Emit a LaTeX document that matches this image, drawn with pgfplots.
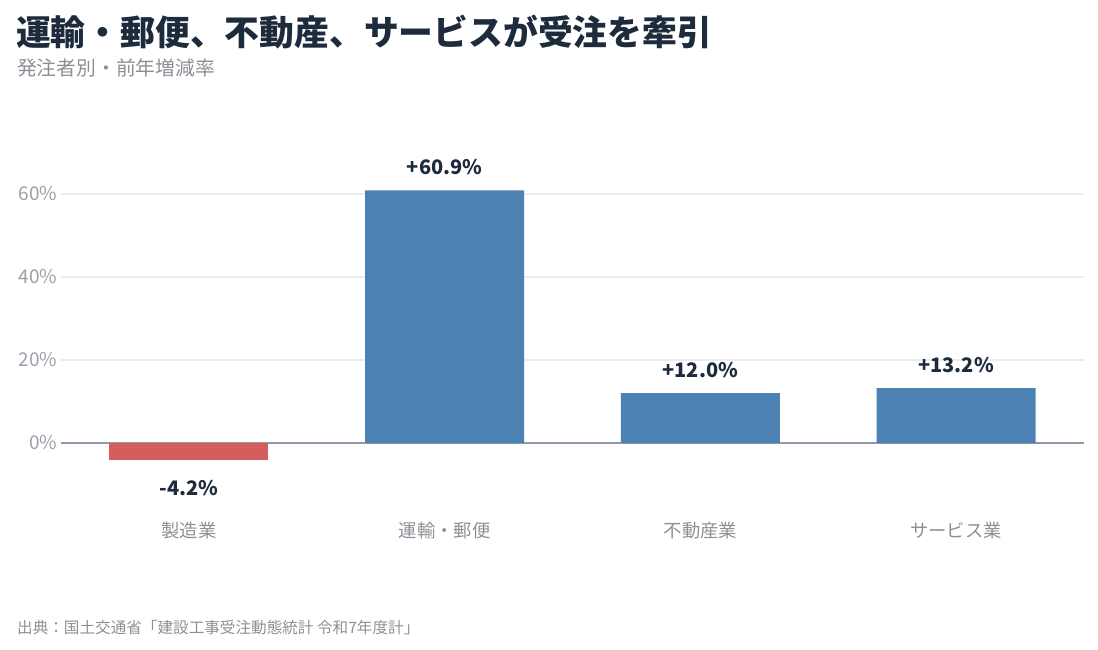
\documentclass[border=0pt]{standalone}
\usepackage{fontspec}
\setmainfont{Noto Sans CJK JP}
\usepackage{pgfplots}
\pgfplotsset{compat=1.18}

\definecolor{titlec}{HTML}{1E2B3C}
\definecolor{subc}{HTML}{8C9096}
\definecolor{tickc}{HTML}{9AA0A8}
\definecolor{barblue}{HTML}{4C81B3}
\definecolor{barred}{HTML}{D65D5B}
\definecolor{gridc}{HTML}{ECECEC}
\definecolor{zeroc}{HTML}{8E9AAA}

\begin{document}
\begin{tikzpicture}
% the axis box has its lower left corner at (0,0); the page is placed round it
\useasboundingbox (-61pt,484.5pt) rectangle (1037pt,-164.5pt);

\begin{axis}[
  at={(0pt,0pt)}, anchor=south west,
  scale only axis,
  width=1023pt, height=332pt,
  xmin=-0.5, xmax=3.5,
  ymin=-10, ymax=70,
  axis line style={draw=none},
  major tick length=0pt,
  xtick={0,1,2,3},
  xticklabels={製造業,運輸・郵便,不動産業,サービス業},
  xticklabel style={text=subc, font=\fontsize{18.3}{22}\selectfont,
    anchor=base, yshift=-53pt},
  ytick={20,40,60},
  extra y ticks={0},
  extra y tick style={grid style={color=zeroc, line width=1.6pt}},
  yticklabel={\pgfmathprintnumber{\tick}\%},
  yticklabel style={text=tickc, font=\fontsize{19}{23}\selectfont},
  /pgf/number format/assume math mode=true,
  ymajorgrids,
  grid style={color=gridc, line width=1.6pt},
  ybar, bar width=159pt, bar shift=0pt,
  nodes near coords={\pgfmathprintnumber[showpos,fixed,fixed zerofill,precision=1]{\pgfplotspointmeta}\%},
  nodes near coords style={text=titlec, font=\fontsize{20}{24}\selectfont\bfseries},
]
\addplot[fill=barred, draw=none,
  every node near coord/.append style={yshift=-16pt}]
  coordinates {(0,-4.2)};
\addplot[fill=barblue, draw=none,
  every node near coord/.append style={yshift=12pt}]
  coordinates {(1,60.9) (2,12.0) (3,13.2)};
\end{axis}

\node[anchor=base west, inner sep=0, text=titlec,
  font=\fontsize{34.8}{40}\selectfont\bfseries] at (-45pt,438.5pt)
  {運輸・郵便、不動産、サービスが受注を牽引};
\node[anchor=base west, inner sep=0, text=subc,
  font=\fontsize{19.8}{24}\selectfont] at (-44pt,408.5pt)
  {発注者別・前年増減率};
\node[anchor=base west, inner sep=0, text=subc,
  font=\fontsize{15.6}{19}\selectfont] at (-44pt,-148.5pt)
  {出典：国土交通省「建設工事受注動態統計 令和7年度計」};
\end{tikzpicture}
\end{document}
